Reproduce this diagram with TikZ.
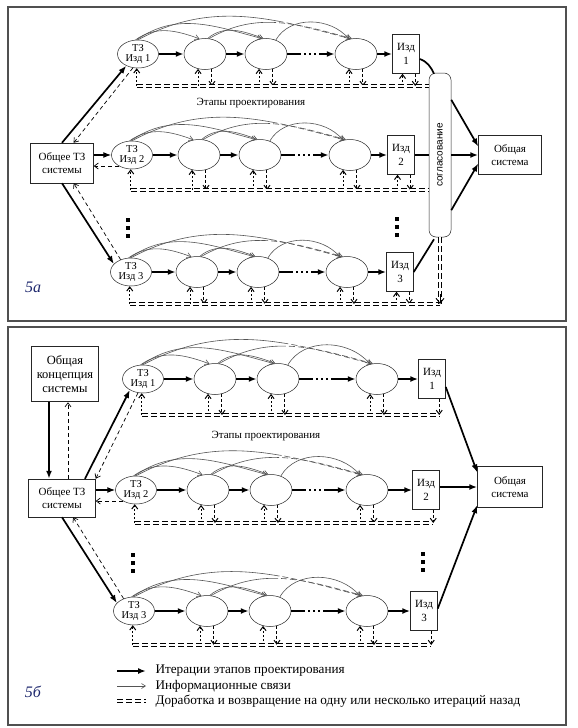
\documentclass[tikz,border=0pt]{standalone}
\usepackage{fontspec}
\setmainfont{Liberation Serif}
\newfontfamily\sogfont{Liberation Sans}
\usetikzlibrary{shapes.geometric,arrows.meta,calc}
\definecolor{panelc}{RGB}{80,80,80}
\definecolor{labc}{RGB}{30,40,110}
\definecolor{infoc}{RGB}{85,85,85}
\tikzset{
  ell/.style={draw=black!85, line width=0.5pt, ellipse, inner sep=0pt, minimum width=42pt, minimum height=31pt},
  tzell/.style={ell, minimum width=41pt, minimum height=28pt, align=center, font=\fontsize{10.5}{10}\selectfont},
  bx/.style={draw=black!85, line width=0.5pt, inner sep=0pt, align=center, font=\fontsize{11}{13}\selectfont},
  izd/.style={bx, minimum width=27pt, minimum height=39pt, font=\fontsize{11}{14}\selectfont},
  mainarr/.style={line width=1.7pt, -{Latex[length=8pt,width=6pt]}},
  plainthick/.style={line width=1.7pt},
  info/.style={draw=infoc, line width=0.6pt, -{Straight Barb[length=4pt,width=5pt]}},
  solidthen/.style={dash pattern=on #1 off 3pt on 6pt off 3pt on 6pt off 3pt on 6pt off 3pt on 6pt off 3pt on 6pt off 3pt on 6pt off 3pt on 6pt off 3pt on 6pt off 3pt on 6pt off 3pt on 6pt off 3pt on 6pt off 3pt on 6pt off 3pt},
  backarr/.style={line width=0.7pt, dash pattern=on 4pt off 3pt, -{Straight Barb[length=4pt,width=6pt]}},
  uparr/.style={line width=1pt, dash pattern=on 2pt off 2pt, -{Straight Barb[length=4pt,width=6pt]}},
  downarr/.style={line width=1pt, dash pattern=on 3pt off 2pt, -{Straight Barb[length=4pt,width=6pt]}},
  rework/.style={draw=black, line width=1.1pt, double=white, double distance=1.5pt, dash pattern=on 6pt off 3pt},
  panel/.style={draw=panelc, line width=1.4pt},
  stagetxt/.style={font=\fontsize{11}{11}\selectfont},
  legtxt/.style={anchor=west, font=\fontsize{13.2}{14}\selectfont},
  panlab/.style={font=\itshape\fontsize{16}{16}\selectfont, text=labc},
}
\newcommand\myrow[9]{%
  \node[tzell] (#1t) at (#3,#2) {ТЗ\\Изд #8};
  \node[ell] (#1a) at (#4,#2) {};
  \node[ell] (#1b) at (#5,#2) {};
  \node[ell] (#1c) at (#6,#2) {};
  \node[izd] (#1x) at (#7,#2) {Изд\\#8};
  \coordinate (#1L) at (#3,#9);
  \draw[mainarr] (#1t) -- (#1a);
  \draw[mainarr] (#1a) -- (#1b);
  \draw[mainarr, dash pattern=on 14pt off 3pt on 2pt off 3pt on 2pt off 3pt on 2pt off 3pt on 60pt] (#1b) -- (#1c);
  \draw[mainarr] (#1c) -- (#1x);
  \draw[info] (#1t.100) to[out=35,in=160] (#1a.110);
  \draw[info] (#1t.95) to[out=35,in=165] (#1b.105);
  \draw[info, solidthen=150pt] (#1t.90) to[out=28,in=165] (#1c.110);
  \draw[info] (#1a.80) to[out=40,in=160] (#1b.100);
  \draw[info, solidthen=70pt] (#1a.75) to[out=30,in=165] (#1c.105);
  \draw[info] (#1b.55) to[out=60,in=130] (#1c.115);
  \draw[uparr] (#1L -| #1t.265) -- (#1t.265);
  \foreach \e in {a,b,c}{%
    \draw[uparr] (#1L -| #1\e.245) -- (#1\e.245);
    \draw[downarr] (#1\e.295) -- (#1L -| #1\e.295);
  }%
}
\begin{document}
\begin{tikzpicture}[x=1pt,y=-1pt]
\useasboundingbox (0,0) rectangle (578,728);
\fill[white] (0,0) rectangle (578,728);
\draw[panel] (8,7) rectangle (566,321);
\draw[panel] (8,327) rectangle (566,725);

% ===== Panel 5a =====
\node[bx, minimum width=63pt, minimum height=40pt] (tzA) at (62,163) {Общее ТЗ\\системы};
\myrow{p1}{54}{138}{205}{266}{356}{406}{1}{86}
\myrow{p2}{155}{132}{199}{260}{350}{401}{2}{190}
\myrow{p3}{272}{131}{197}{258}{347}{400}{3}{304}
\node[draw=black!85, line width=0.5pt, rounded corners=7pt, minimum width=22pt, minimum height=164pt, inner sep=0pt] (sogl) at (440,155) {};
\node[rotate=90, font=\sogfont\fontsize{10}{10}\selectfont] (sogltxt) at (sogl) {согласование};
\node[bx, minimum width=63pt, minimum height=39pt] (obA) at (510,155) {Общая\\система};
\node[stagetxt] (stA) at (251,103) {Этапы проектирования};
\node[panlab] (labA) at (33,287) {5а};

% box arrows
\foreach \r in {p1,p2,p3}{%
  \draw[uparr] (\r L -| \r x.260) -- (\r x.260);
  \draw[downarr] (\r x.295) -- (\r L -| \r x.295);
}
% rework lines
\draw[rework] (p1L -| p1t.265) -- (p1L -| sogl.west);
\draw[rework] (p2L -| p2t.265) -- (p2L -| sogl.west);
\coordinate (p3end) at (sogl.south |- p3L);
\draw[rework] (p3L -| p3t.265) -- (p3end);
\draw[rework] (sogl.south) -- (p3end);
\coordinate (p3endtop) at ($(p3end)+(0,-10)$);
\draw[line width=0.9pt, -{Straight Barb[length=5pt,width=8pt]}] (p3endtop) -- (p3end);

% links to TZ
\draw[mainarr] (tzA.north) -- (p1t.225);
\draw[backarr] (p1t.250) -- (tzA.60);
\draw[mainarr, line width=1.2pt] (p2t -| tzA.east) -- (p2t);
\draw[backarr] (p2t.220) -- (p2t.220 -| tzA.east);
\draw[mainarr] (tzA.south) -- (p3t.155);
\draw[backarr] (p3t.130) -- (tzA.-60);

% agreement
\coordinate (sgA) at ($(sogl.north)+(-6,1)$);
\coordinate (sgB) at ($(sogl.south)+(-6,2)$);
\coordinate (sgR1) at ($(sogl.north east)+(0,27)$);
\coordinate (sgR3) at ($(sogl.south east)+(0,-27)$);
\draw[plainthick] (p1x.-20) to[out=-20,in=115] (sgA);
\draw[plainthick] (p2x.east) -- (p2x.east -| sogl.west);
\draw[plainthick] (p3x.east) -- (sgB);
\draw[mainarr] (sgR1) -- (obA.165);
\draw[mainarr] (sogl.east) -- (obA.west);
\draw[mainarr] (sgR3) -- (obA.195);

% dots
\fill (126,218) rectangle ++(4,4);
\fill (126,226) rectangle ++(4,4);
\fill (126,234) rectangle ++(4,4);
\fill (395,217) rectangle ++(4,4);
\fill (395,225) rectangle ++(4,4);
\fill (395,233) rectangle ++(4,4);

% ===== Panel 5b =====
\node[bx, line width=1.5pt, minimum width=67pt, minimum height=55pt, font=\fontsize{12.5}{14}\selectfont] (konc) at (65,374) {Общая\\концепция\\системы};
\node[bx, minimum width=67pt, minimum height=38pt] (tzB) at (62,498) {Общее ТЗ\\системы};
\myrow{q1}{379}{143}{215}{278}{377}{432}{1}{415}
\myrow{q2}{490}{136}{208}{271}{367}{426}{2}{523}
\myrow{q3}{611}{134}{207}{270}{367}{424}{3}{645}
\node[bx, minimum width=65pt, minimum height=41pt] (obB) at (510,487) {Общая\\система};
\node[stagetxt] (stB) at (266,436) {Этапы проектирования};
\node[panlab] (labB) at (33,692) {5б};

\foreach \r in {q1,q2,q3}{%
  \draw[rework] (\r L -| \r t.265) -- (\r L -| \r x.290);
  \draw[downarr] (\r x.290) -- (\r L -| \r x.290);
}

\coordinate (kL) at (49,440);
\coordinate (kR) at (68,440);
\draw[mainarr] (konc.south -| kL) -- (tzB.north -| kL);
\draw[backarr] (tzB.north -| kR) -- (konc.south -| kR);
\draw[mainarr] (tzB.40) -- (q1t.220);
\draw[backarr] (q1t.250) -- (tzB.north east);
\draw[mainarr, line width=1.2pt] (q2t -| tzB.east) -- (q2t);
\draw[backarr] (q2t.220) -- (q2t.220 -| tzB.east);
\draw[mainarr] (tzB.south) -- (q3t.155);
\draw[backarr] (q3t.130) -- (tzB.-60);

\draw[mainarr] (q1x.-30) -- (obB.156);
\draw[mainarr] (obB.west -| q2x.east) -- (obB.west);
\draw[mainarr] (q3x.10) -- (obB.209);

\fill (131,553) rectangle ++(4,4);
\fill (131,561) rectangle ++(4,4);
\fill (131,569) rectangle ++(4,4);
\fill (421,552) rectangle ++(4,4);
\fill (421,560) rectangle ++(4,4);
\fill (421,568) rectangle ++(4,4);

% legend
\coordinate (la1) at (117,671); \coordinate (la2) at (146,671);
\coordinate (lb1) at (117,686); \coordinate (lb2) at (146,686);
\coordinate (lc1) at (117,701); \coordinate (lc2) at (146,701);
\draw[mainarr] (la1) -- (la2);
\draw[info] (lb1) -- (lb2);
\draw[rework] (lc1) -- (lc2);
\node[legtxt] (lt1) at (152,671) {Итерации этапов проектирования};
\node[legtxt] (lt2) at (152,686) {Информационные связи};
\node[legtxt] (lt3) at (152,701) {Доработка и возвращение на одну или несколько итераций назад};
\end{tikzpicture}
\end{document}
